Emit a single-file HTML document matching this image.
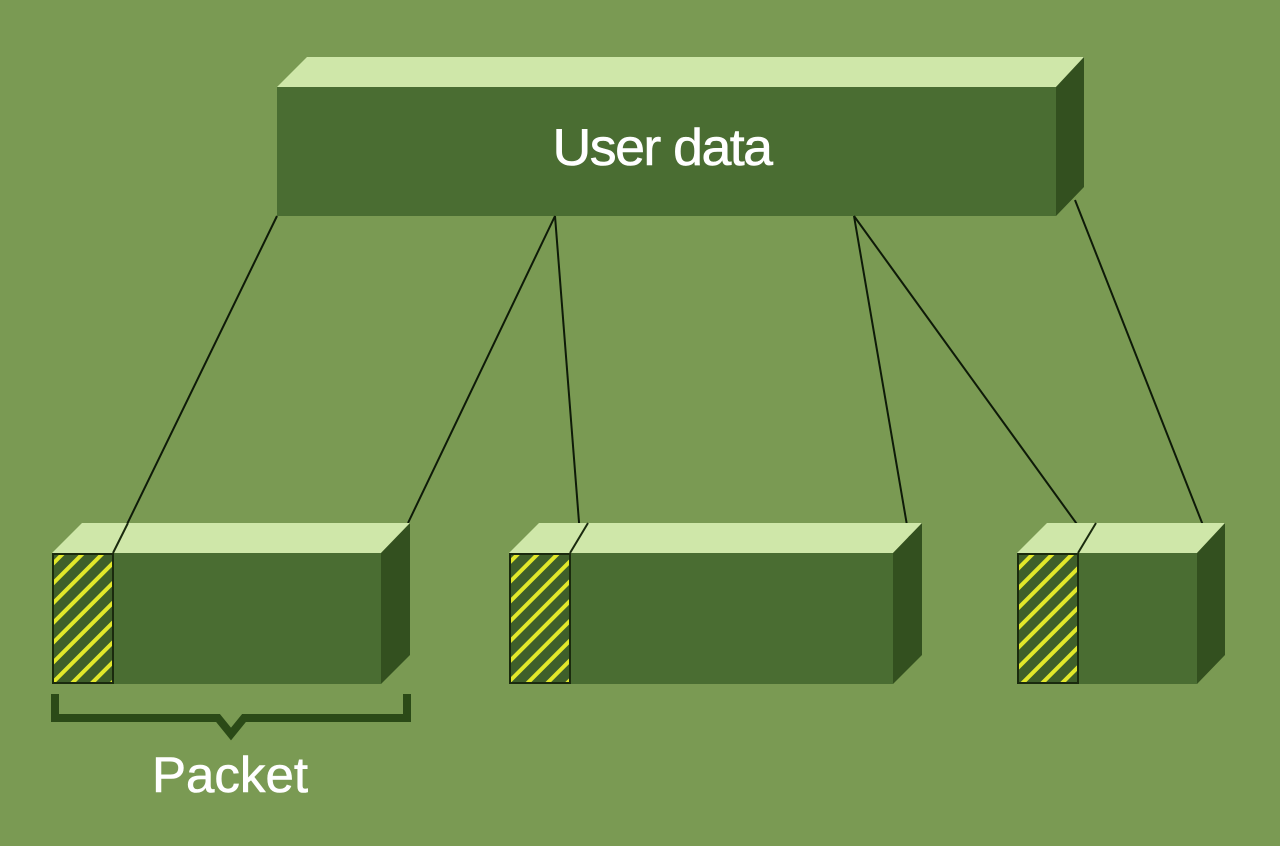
<!DOCTYPE html>
<html><head><meta charset="utf-8"><style>
html,body{margin:0;padding:0;background:#7a9a53;}
svg{display:block}
</style></head><body>
<svg width="1280" height="846" viewBox="0 0 1280 846" xmlns="http://www.w3.org/2000/svg">
<defs>
<pattern id="h" patternUnits="userSpaceOnUse" width="14" height="14" patternTransform="rotate(45)">
<rect width="14" height="14" fill="#3f5f2a"/>
<rect x="0" y="0" width="4" height="14" fill="#e2e82a"/>
</pattern>
</defs>
<rect width="1280" height="846" fill="#7a9a53"/>
<polygon points="277,87 307,57 1084,57 1056,87" fill="#cfe7a9"/>
<polygon points="1056,87 1084,57 1084,187 1056,216" fill="#33501f"/>
<rect x="277" y="87" width="779" height="129" fill="#4a6d32"/>
<text x="662" y="165" text-anchor="middle" font-family="Liberation Sans, sans-serif" font-size="52" fill="#fff" letter-spacing="-1.5" stroke="#fff" stroke-width="0.6" textLength="219" lengthAdjust="spacingAndGlyphs">User data</text>
<g stroke="#0e1a08" stroke-width="2" fill="none">
<line x1="277" y1="216" x2="113" y2="553"/>
<line x1="555" y1="216" x2="408" y2="523"/>
<line x1="555" y1="216" x2="580" y2="535"/>
<line x1="854" y1="216" x2="909" y2="537"/>
<line x1="854" y1="216" x2="1087" y2="538"/>
<line x1="1075" y1="200" x2="1208" y2="538"/>
</g>
<polygon points="52,553 82,523 410,523 381,553" fill="#cfe7a9"/>
<polygon points="381,553 410,523 410,655 381,684" fill="#33501f"/>
<rect x="52" y="553" width="329" height="131" fill="#4a6d32"/>
<rect x="53" y="554" width="60" height="129" fill="url(#h)" stroke="#1a2a0e" stroke-width="2"/>
<line x1="113" y1="553" x2="128" y2="523" stroke="#1a2a0e" stroke-width="2"/>
<polygon points="509,553 539,523 922,523 893,553" fill="#cfe7a9"/>
<polygon points="893,553 922,523 922,655 893,684" fill="#33501f"/>
<rect x="509" y="553" width="384" height="131" fill="#4a6d32"/>
<rect x="510" y="554" width="60" height="129" fill="url(#h)" stroke="#1a2a0e" stroke-width="2"/>
<line x1="570" y1="553" x2="588" y2="523" stroke="#1a2a0e" stroke-width="2"/>
<polygon points="1017,553 1047,523 1225,523 1197,553" fill="#cfe7a9"/>
<polygon points="1197,553 1225,523 1225,655 1197,684" fill="#33501f"/>
<rect x="1017" y="553" width="180" height="131" fill="#4a6d32"/>
<rect x="1018" y="554" width="60" height="129" fill="url(#h)" stroke="#1a2a0e" stroke-width="2"/>
<line x1="1078" y1="553" x2="1096" y2="523" stroke="#1a2a0e" stroke-width="2"/>
<path d="M55,694 V718 H218 L231,734 L244,718 H407 V694" fill="none" stroke="#2b4a17" stroke-width="8"/>
<text x="230" y="792" text-anchor="middle" font-family="Liberation Sans, sans-serif" font-size="50" fill="#fff" stroke="#fff" stroke-width="0.6" textLength="156" lengthAdjust="spacingAndGlyphs">Packet</text>
</svg>
</body></html>
